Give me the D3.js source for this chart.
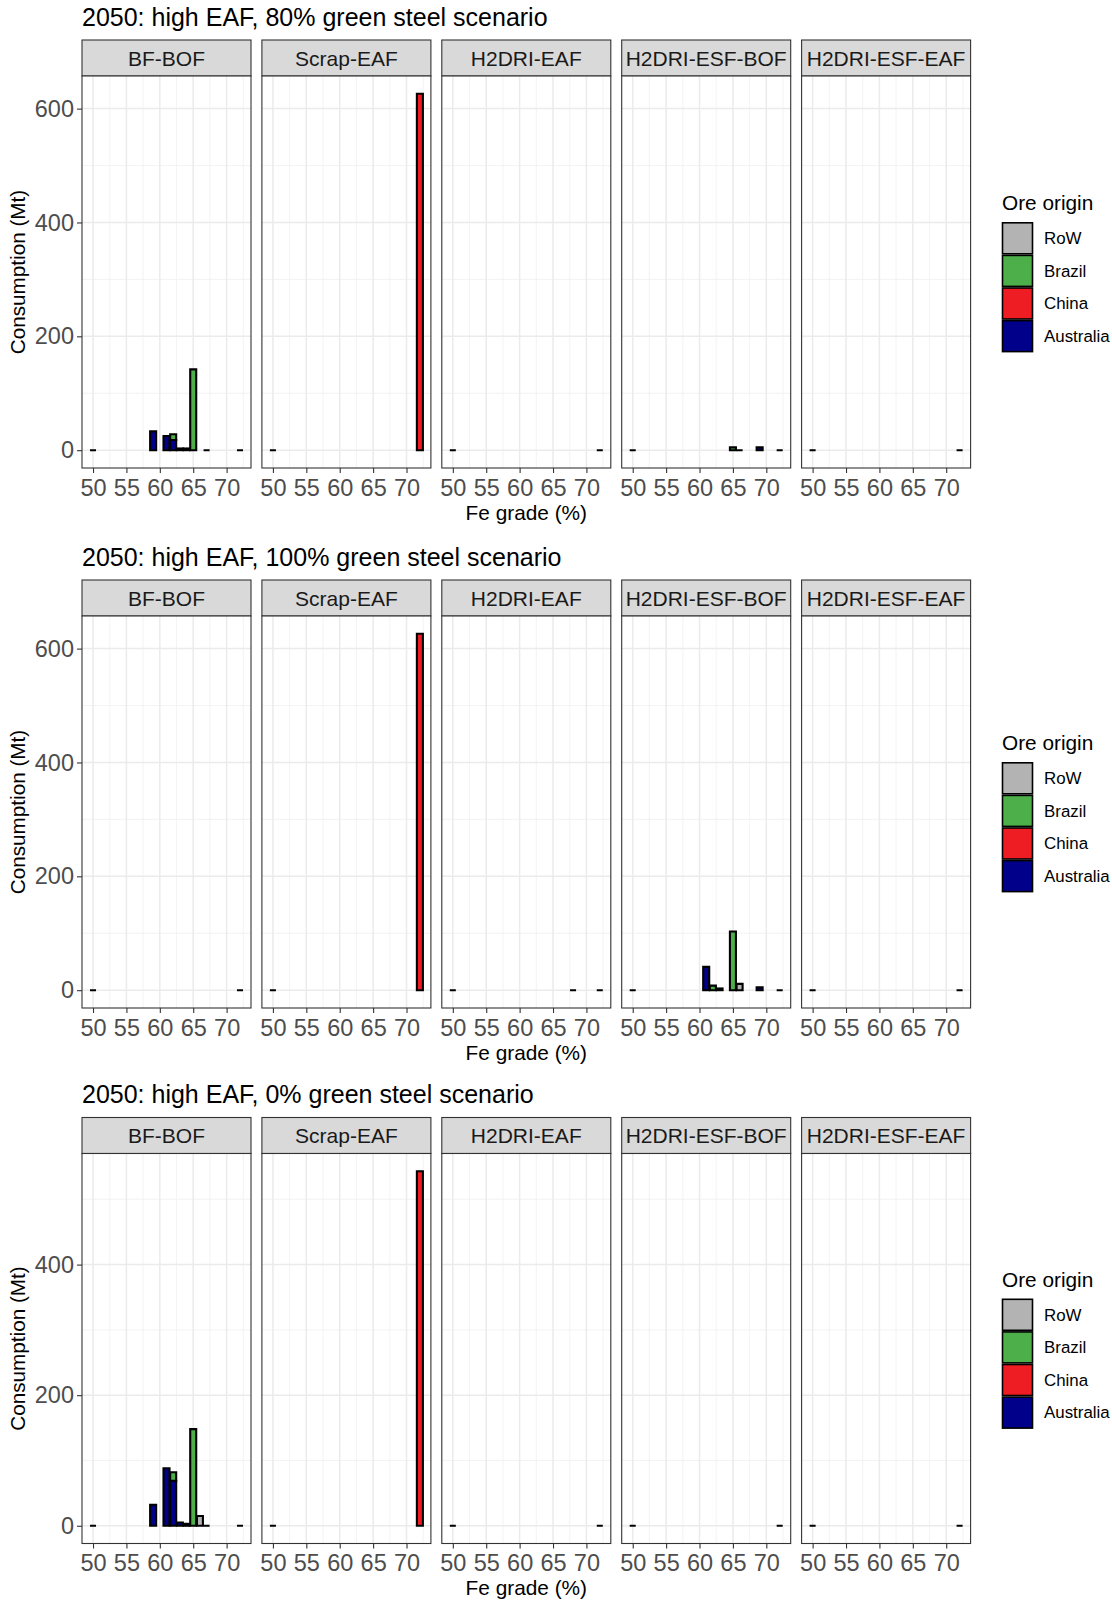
<!DOCTYPE html>
<html>
<head>
<meta charset="utf-8">
<script src="https://cdn.jsdelivr.net/npm/d3@7"></script>
<style>
  body { margin: 0; background: #fff; }
  svg { display: block; font-family: "Liberation Sans", Arial, sans-serif; }
</style>
</head>
<body>
<div id="chart"></div>
<script>
// ---- data ----
const scenarios = [
  '2050: high EAF, 80% green steel scenario',
  '2050: high EAF, 100% green steel scenario',
  '2050: high EAF, 0% green steel scenario'
];
const routes = ['BF-BOF', 'Scrap-EAF', 'H2DRI-EAF', 'H2DRI-ESF-BOF', 'H2DRI-ESF-EAF'];
const origins = ['RoW', 'Brazil', 'China', 'Australia'];
const xTicks = [50, 55, 60, 65, 70];
const yTicks = [[0, 200, 400, 600], [0, 200, 400, 600], [0, 200, 400]];

// [route, Fe grade, origin, Mt]
const green80 = [
  ['BF-BOF', 50, 'RoW', 0], ['BF-BOF', 59, 'Australia', 33], ['BF-BOF', 61, 'Australia', 25],
  ['BF-BOF', 62, 'Australia', 18], ['BF-BOF', 62, 'Brazil', 10], ['BF-BOF', 63, 'Australia', 3],
  ['BF-BOF', 64, 'Australia', 3], ['BF-BOF', 65, 'Brazil', 142], ['BF-BOF', 67, 'RoW', 0],
  ['BF-BOF', 72, 'RoW', 0],
  ['Scrap-EAF', 50, 'RoW', 0], ['Scrap-EAF', 72, 'China', 626],
  ['H2DRI-EAF', 50, 'RoW', 0], ['H2DRI-EAF', 72, 'RoW', 0],
  ['H2DRI-ESF-BOF', 50, 'RoW', 0], ['H2DRI-ESF-BOF', 65, 'Brazil', 5], ['H2DRI-ESF-BOF', 66, 'RoW', 0],
  ['H2DRI-ESF-BOF', 69, 'Australia', 5], ['H2DRI-ESF-BOF', 72, 'RoW', 0],
  ['H2DRI-ESF-EAF', 50, 'RoW', 0], ['H2DRI-ESF-EAF', 72, 'RoW', 0]
];
const green100 = [
  ['BF-BOF', 50, 'RoW', 0], ['BF-BOF', 72, 'RoW', 0],
  ['Scrap-EAF', 50, 'RoW', 0], ['Scrap-EAF', 72, 'China', 626],
  ['H2DRI-EAF', 50, 'RoW', 0], ['H2DRI-EAF', 68, 'RoW', 0], ['H2DRI-EAF', 72, 'RoW', 0],
  ['H2DRI-ESF-BOF', 50, 'RoW', 0], ['H2DRI-ESF-BOF', 61, 'Australia', 41], ['H2DRI-ESF-BOF', 62, 'Brazil', 8],
  ['H2DRI-ESF-BOF', 63, 'Australia', 3], ['H2DRI-ESF-BOF', 65, 'Brazil', 103], ['H2DRI-ESF-BOF', 66, 'RoW', 11],
  ['H2DRI-ESF-BOF', 69, 'Australia', 5], ['H2DRI-ESF-BOF', 72, 'RoW', 0],
  ['H2DRI-ESF-EAF', 50, 'RoW', 0], ['H2DRI-ESF-EAF', 72, 'RoW', 0]
];
const green0 = [
  ['BF-BOF', 50, 'RoW', 0], ['BF-BOF', 59, 'Australia', 32], ['BF-BOF', 61, 'Australia', 88],
  ['BF-BOF', 62, 'Australia', 69], ['BF-BOF', 62, 'Brazil', 13], ['BF-BOF', 63, 'Australia', 5],
  ['BF-BOF', 64, 'Australia', 3], ['BF-BOF', 65, 'Brazil', 148], ['BF-BOF', 66, 'RoW', 15],
  ['BF-BOF', 67, 'RoW', 0], ['BF-BOF', 72, 'RoW', 0],
  ['Scrap-EAF', 50, 'RoW', 0], ['Scrap-EAF', 72, 'China', 543],
  ['H2DRI-EAF', 50, 'RoW', 0], ['H2DRI-EAF', 72, 'RoW', 0],
  ['H2DRI-ESF-BOF', 50, 'RoW', 0], ['H2DRI-ESF-BOF', 72, 'RoW', 0],
  ['H2DRI-ESF-EAF', 50, 'RoW', 0], ['H2DRI-ESF-EAF', 72, 'RoW', 0]
];
const scenarioData = [green80, green100, green0];

// ---- layout ----
const W = 1112, H = 1603;
const panelLeft = 82, panelW = 169, panelStep = 179.9;
const stripH = 36;
const rowTop = [40, 580, 1117.5];
const panelH = [392, 392, 390];
const barWidth = 0.9;
const FONT = '"Liberation Sans", Arial, sans-serif';

const colour = d3.scaleOrdinal()
  .domain(origins)
  .range(['#B3B3B3', '#4DAF4A', '#EE1D23', '#00008B']);

const svg = d3.select('#chart').append('svg')
  .attr('width', W).attr('height', H);

const x = d3.scaleLinear().domain([48.35, 73.65]).range([0, panelW]);

scenarioData.forEach((rows, r) => {
  const top = rowTop[r];
  const pH = panelH[r];

  // stack by route + grade, Australia at the bottom
  const stacked = [];
  routes.forEach(route => {
    const grades = Array.from(new Set(rows.filter(d => d[0] === route).map(d => d[1])));
    grades.forEach(g => {
      let base = 0;
      origins.slice().reverse().forEach(o => {
        rows.filter(d => d[0] === route && d[1] === g && d[2] === o).forEach(d => {
          stacked.push({route, grade: g, origin: o, y0: base, y1: base + d[3]});
          base += d[3];
        });
      });
    });
  });

  const maxY = d3.max(stacked, d => d.y1);
  const pad = maxY * 0.05;
  const y = d3.scaleLinear().domain([-pad, maxY + pad]).range([pH, 0]);
  const minor = d3.range(100, maxY + pad, 200);
  const xMinor = [52.5, 57.5, 62.5, 67.5, 72.5];

  const row = svg.append('g').attr('transform', `translate(0,${top})`);

  row.append('text')
    .attr('x', panelLeft).attr('y', -14.5)
    .attr('font-size', 25).attr('fill', '#000')
    .text(scenarios[r]);

  routes.forEach((route, i) => {
    const px = panelLeft + i * panelStep;
    const g = row.append('g').attr('transform', `translate(${px},0)`);

    // strip
    g.append('rect')
      .attr('x', 0).attr('y', 0).attr('width', panelW).attr('height', stripH)
      .attr('fill', '#D9D9D9').attr('stroke', '#333').attr('stroke-width', 1.1);
    g.append('text')
      .attr('x', panelW / 2).attr('y', stripH / 2 + 7.5)
      .attr('text-anchor', 'middle').attr('font-size', 21).attr('fill', '#1A1A1A')
      .text(route);

    const p = g.append('g').attr('transform', `translate(0,${stripH})`);
    p.append('rect').attr('width', panelW).attr('height', pH).attr('fill', '#fff');

    // grid
    p.selectAll('.ymin').data(minor).enter().append('line')
      .attr('x1', 0).attr('x2', panelW).attr('y1', d => y(d)).attr('y2', d => y(d))
      .attr('stroke', '#F0F0F0').attr('stroke-width', 0.8);
    p.selectAll('.xmin').data(xMinor).enter().append('line')
      .attr('y1', 0).attr('y2', pH).attr('x1', d => x(d)).attr('x2', d => x(d))
      .attr('stroke', '#F0F0F0').attr('stroke-width', 0.8);
    p.selectAll('.ymaj').data(yTicks[r]).enter().append('line')
      .attr('x1', 0).attr('x2', panelW).attr('y1', d => y(d)).attr('y2', d => y(d))
      .attr('stroke', '#EBEBEB').attr('stroke-width', 1.5);
    p.selectAll('.xmaj').data(xTicks).enter().append('line')
      .attr('y1', 0).attr('y2', pH).attr('x1', d => x(d)).attr('x2', d => x(d))
      .attr('stroke', '#EBEBEB').attr('stroke-width', 1.5);

    // bars as paths so zero-height bars still show their outline
    p.selectAll('.bar').data(stacked.filter(d => d.route === route)).enter().append('path')
      .attr('d', d => {
        const x0 = x(d.grade - barWidth / 2), x1 = x(d.grade + barWidth / 2);
        const ya = y(d.y0), yb = y(d.y1);
        return `M${x0},${ya}H${x1}V${yb}H${x0}Z`;
      })
      .attr('fill', d => colour(d.origin))
      .attr('stroke', '#000').attr('stroke-width', 2.1);

    p.append('rect').attr('width', panelW).attr('height', pH)
      .attr('fill', 'none').attr('stroke', '#333').attr('stroke-width', 1.1);

    // x axis
    const xa = p.append('g').attr('transform', `translate(0,${pH})`)
      .call(d3.axisBottom(x).tickValues(xTicks).tickSize(5).tickPadding(6));
    xa.select('.domain').remove();
    xa.selectAll('line').attr('stroke', '#333').attr('stroke-width', 1.1);
    xa.selectAll('text').attr('font-size', 23.5).attr('fill', '#4D4D4D')
      .attr('font-family', FONT);

    if (i === 0) {
      const ya = p.append('g')
        .call(d3.axisLeft(y).tickValues(yTicks[r]).tickSize(5).tickPadding(3));
      ya.select('.domain').remove();
      ya.selectAll('line').attr('stroke', '#333').attr('stroke-width', 1.1);
      ya.selectAll('text').attr('font-size', 23.5).attr('fill', '#4D4D4D')
        .attr('font-family', FONT);
    }
  });

  const pBottom = stripH + pH;
  const midX = panelLeft + (4 * panelStep + panelW) / 2;
  row.append('text')
    .attr('x', midX).attr('y', pBottom + 51.5)
    .attr('text-anchor', 'middle').attr('font-size', 20.8).attr('fill', '#000')
    .text('Fe grade (%)');

  const midY = stripH + pH / 2;
  row.append('text')
    .attr('transform', `translate(25,${midY}) rotate(-90)`)
    .attr('text-anchor', 'middle').attr('font-size', 20.7).attr('fill', '#000')
    .text('Consumption (Mt)');

  // legend
  const lg = row.append('g').attr('transform', `translate(1002,${midY - 80})`);
  lg.append('text').attr('x', 0).attr('y', 18)
    .attr('font-size', 20.8).attr('fill', '#000').text('Ore origin');
  origins.forEach((o, k) => {
    const ky = 30 + k * 32.6;
    lg.append('rect').attr('x', 0.5).attr('y', ky + 0.8).attr('width', 30).attr('height', 31)
      .attr('fill', colour(o)).attr('stroke', '#000').attr('stroke-width', 1.6);
    lg.append('text').attr('x', 42).attr('y', ky + 22)
      .attr('font-size', 16.9).attr('fill', '#000').text(o);
  });
});
</script>
</body>
</html>
